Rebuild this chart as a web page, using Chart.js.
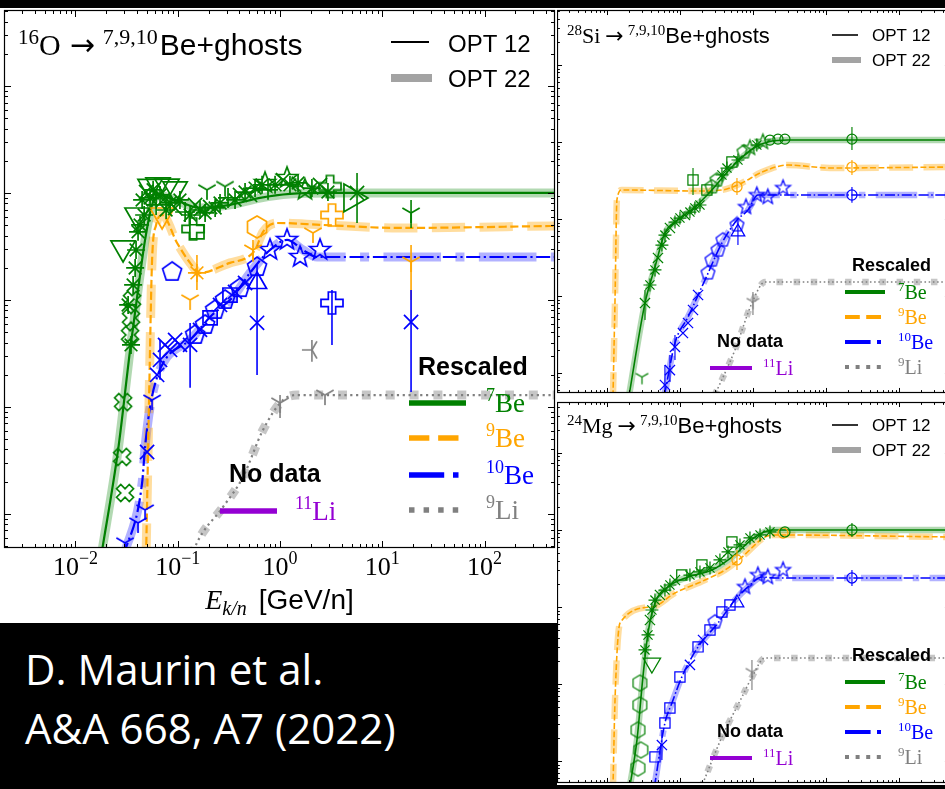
<!DOCTYPE html>
<html>
<head>
<meta charset="utf-8">
<script src="https://cdn.jsdelivr.net/npm/chart.js@4.4.1/dist/chart.umd.min.js"></script>
<style>
  html, body { margin: 0; padding: 0; }
  body { width: 945px; height: 789px; background: #000; position: relative; overflow: hidden; }
  .panel { position: absolute; background: #fff; }
  .panel canvas { display: block; }
  #p1 { left: 0; top: 8px; width: 558px; height: 615px; }
  #p2 { left: 557px; top: 8px; width: 400px; height: 390px; }
  #p3 { left: 557px; top: 398px; width: 400px; height: 387px; }
  .cap { position: absolute; left: 25px; color: #fff; font: 42px/42px "Open Sans", sans-serif; white-space: nowrap; }
</style>
</head>
<body>
<div id="p1" class="panel"><canvas id="c1" width="558" height="615"></canvas></div>
<div id="p2" class="panel"><canvas id="c2" width="400" height="390"></canvas></div>
<div id="p3" class="panel"><canvas id="c3" width="400" height="387"></canvas></div>
<div class="cap" style="top:648px">D. Maurin et al.</div>
<div class="cap" style="top:707px">A&amp;A 668, A7 (2022)</div>

<script>
// x: kinetic energy per nucleon (GeV/n), y: rescaled cross sections (no labels in the picture)
const X_TICKS = [0.01, 0.1, 1, 10, 100];
const X_TICK_EXP = ['\u22122', '\u22121', '0', '1', '2'];

// ---------- 16O panel: model curves ----------
const O16_BE7_E = [0.0178, 0.0261, 0.0342, 0.0409, 0.0479, 0.0561, 0.0641, 0.0942, 0.165, 0.324, 0.637, 1.25, 3.08, 500];
const O16_BE7_Y = [0.004, 0.0396, 0.341, 1.24, 3.64, 7.73, 9.58, 8.60, 7.24, 7.73, 8.98, 9.79, 10, 10];
const O16_BE9_E = [0.0490, 0.0524, 0.0561, 0.0614, 0.0703, 0.0985, 0.132, 0.165, 0.324, 0.486, 0.570, 0.682, 0.935, 2.63, 14.9, 500];
const O16_BE9_Y = [0.004, 0.116, 2.37, 5.02, 6.22, 3.41, 2.22, 1.79, 2.22, 2.52, 2.93, 4.33, 5.24, 5.02, 4.71, 4.92];
const O16_BE10_E = [0.0295, 0.0448, 0.0479, 0.0536, 0.0628, 0.0786, 0.132, 0.207, 0.347, 0.509, 0.798, 1.17, 1.68, 2.30, 500];
const O16_BE10_Y = [0.004, 0.0195, 0.0423, 0.100, 0.190, 0.293, 0.423, 0.693, 1.07, 1.79, 2.93, 3.64, 2.93, 2.52, 2.52];
const O16_LI9_E = [0.138, 0.154, 0.277, 0.435, 0.682, 1.07, 1.47, 500];
const O16_LI9_Y = [0.004, 0.00536, 0.0116, 0.0222, 0.061, 0.116, 0.129, 0.129];

// ---------- 16O panel: data points ----------
const O16_D7_E = [0.0292, 0.0536, 0.0641, 0.0786, 0.0942, 0.0400, 5.66, 19.1, 5.05, 0.141, 3.08, 0.154, 0.193, 0.290, 1.17, 0.713,
  0.0448, 0.0490, 0.0536, 0.0574, 0.0614, 0.0671, 0.0718, 0.0769, 0.0841, 0.0942, 0.105, 0.118, 0.132, 0.148, 0.165, 0.185, 0.207, 0.232,
  0.259, 0.310, 0.363, 0.406, 0.455, 0.509, 0.570, 0.667, 0.763, 0.894, 1.07, 1.25, 1.50, 1.75, 2.05, 2.46, 2.94,
  0.0409, 0.0391, 0.0383, 0.0366, 0.0357, 0.0349, 0.0342, 0.0349, 0.0292, 0.0286, 0.0305, 0.0327, 0.0428, 0.0469];
const O16_D7_Y = [3.06, 11.5, 11.9, 11.6, 10.9, 6.22, 10, 6.5, 8.98, 4.61, 11.5, 4.33, 10.7, 11.5, 13.8, 12.4,
  8.60, 10.2, 8.98, 10.7, 7.73, 9.58, 8.60, 6.93, 8.07, 7.24, 8.60, 6.64, 6.22, 7.73, 6.93, 6.50, 7.40, 7.24,
  8.07, 8.98, 8.60, 9.58, 10.2, 9.58, 11.1, 11.9, 10.7, 11.9, 13.2, 11.9, 12.4, 10.7, 11.1, 11.9, 10.2,
  4.33, 2.93, 1.99, 1.38, 1.0, 0.680, 0.471, 0.380, 0.111, 0.0341, 0.0157, 0.898, 5.02, 6.22];
const O16_D7_M = 'vvvvvvxY>PPsYYSS' + '*x**+*x**x*+*x**x**+*x*x**+*x**S*x*' + '****XXX*XXX***';
const O16_D9_E = [0.596, 3.22, 2.10, 0.154, 0.544, 0.132, 19.1, 0.0703];
const O16_D9_Y = [4.81, 6.22, 4.23, 1.79, 2.93, 1.0, 2.26, 6.22];
const O16_D9_M = 'hPY*YYYv';
const O16_D10_E = [0.0880, 1.17, 0.798, 1.57, 2.46, 0.596, 0.596, 3.22, 19.1, 0.596,
  0.148, 0.165, 0.185, 0.207, 0.232, 0.259, 0.290, 0.324, 0.363, 0.406, 0.455,
  0.0671, 0.0751, 0.0841, 0.0942, 0.105, 0.132, 0.0628, 0.0561, 0.0501, 0.0479, 0.0409, 0.0305];
const O16_D10_Y = [1.83, 3.64, 2.93, 2.52, 2.93, 1.44, 2.03, 0.937, 0.622, 0.611,
  0.471, 0.525, 0.584, 0.680, 0.807, 0.898, 1.0, 1.11, 1.19, 1.29, 1.44,
  0.275, 0.380, 0.341, 0.423, 0.380, 0.380, 0.199, 0.116, 0.0379, 0.0109, 0.00824, 0.00536];
const O16_D10_M = 'pSSSS^pPxx' + 'pxpspxpsxpx' + 'xxxxxxxYxYYY';
const O16_DLI_E = [1.0, 2.75, 2.05];
const O16_DLI_Y = [0.109, 0.129, 0.341];
const O16_DLI_M = 'YY<';
const O16_ERR_E = [5.66, 19.1, 0.154, 0.544, 19.1, 0.596, 3.22, 19.1, 0.596, 0.0671, 0.132, 1.0, 2.05];
const O16_ERR_LO = [5.24, 4.71, 1.24, 2.27, 1.0, 1.0, 0.380, 0.138, 0.199, 0.179, 0.151, 0.0789, 0.264];
const O16_ERR_HI = [15.4, 8.60, 2.63, 3.64, 3.27, 2.12, 1.24, 1.24, 1.0, 0.423, 0.610, 0.129, 0.423];
const O16_ERR_C = 'ggooobbbbbbkk';

// ---------- 28Si panel ----------
const SI_BE7_E = [0.0200, 0.0332, 0.0455, 0.0623, 0.0939, 0.160, 0.274, 0.515, 1.07, 1.60, 3.02, 500];
const SI_BE7_Y = [0.005, 0.081, 0.238, 0.658, 0.97, 1.43, 2.38, 4.73, 8.61, 10.0, 10.6, 10.6];
const SI_BE9_E = [0.0121, 0.0129, 0.0137, 0.0160, 0.177, 0.376, 0.707, 1.33, 3.02, 11.3, 500];
const SI_BE9_Y = [0.005, 0.0888, 1.77, 2.38, 2.31, 2.38, 2.94, 4.07, 5.02, 4.60, 4.73];
const SI_BE10_E = [0.0610, 0.0855, 0.129, 0.220, 0.376, 0.604, 0.855, 1.17, 500];
const SI_BE10_Y = [0.005, 0.0245, 0.0534, 0.161, 0.488, 0.97, 1.31, 2.05, 2.05];
const SI_LI9_E = [0.295, 0.567, 0.969, 1.46, 500];
const SI_LI9_Y = [0.005, 0.0199, 0.081, 0.152, 0.152];
const SI_D7_E = [0.0332, 0.0302, 0.0388, 0.0455, 0.0500, 0.0566, 0.0623, 0.0729, 0.0855, 0.100, 0.117, 0.137, 0.160, 0.188, 0.151,
  0.234, 0.274, 0.321, 0.376, 0.441, 0.515, 0.623, 0.753, 0.910, 1.13, 1.37, 1.71, 2.20, 2.74, 22.7];
const SI_D7_Y = [0.081, 0.00887, 0.139, 0.218, 0.312, 0.459, 0.619, 0.764, 0.914, 1.03, 1.13, 1.23, 1.39, 1.52, 3.21,
  2.38, 2.61, 3.21, 3.73, 4.59, 5.50, 5.84, 7.42, 8.36, 9.14, 10.0, 10.6, 10.9, 10.9, 10.9];
const SI_D7_M = 'xY**x**x**x***sspp**s*pS*Soooo';
const SI_D9_E = [0.604, 22.7];
const SI_D9_Y = [2.61, 4.73];
const SI_D9_M = 'oo';
const SI_D10_E = [0.0623, 0.0729, 0.0855, 0.110, 0.129, 0.151, 0.177, 0.242, 0.274, 0.332, 0.388, 0.604, 0.623, 0.802, 1.13, 1.60, 2.58, 22.7];
const SI_D10_Y = [0.00698, 0.0109, 0.0218, 0.0330, 0.0446, 0.0658, 0.103, 0.199, 0.293, 0.395, 0.533, 0.836, 0.678, 1.43, 2.05, 1.93, 2.53, 2.05];
const SI_D10_M = 'xxxxxxxppppp^SSSSo';
const SI_DLI_E = [1.0];
const SI_DLI_Y = [0.0836];
const SI_DLI_M = 'Y';
const SI_ERR_E = [0.0332, 0.151, 22.7, 0.604, 22.7, 0.0623, 0.0729, 0.0855, 0.623, 22.7, 1.0];
const SI_ERR_LO = [0.0488, 2.05, 7.87, 2.05, 3.73, 0.005, 0.00764, 0.0148, 0.459, 1.62, 0.0566];
const SI_ERR_HI = [0.120, 4.59, 15.7, 3.41, 5.84, 0.0127, 0.0171, 0.0312, 0.971, 2.61, 0.113];
const SI_ERR_C = 'gggoobbbbbk';

// ---------- 24Mg panel ----------
const MG_BE7_E = [0.0205, 0.0258, 0.0311, 0.0365, 0.0455, 0.0685, 0.129, 0.274, 0.515, 1.07, 1.82, 500];
const MG_BE7_Y = [0.0045, 0.0188, 0.123, 0.459, 1.13, 1.82, 2.45, 3.02, 4.45, 8.11, 10.0, 10.0];
const MG_BE9_E = [0.0121, 0.0129, 0.0151, 0.0413, 0.0855, 0.220, 0.413, 0.707, 1.46, 2.00, 500];
const MG_BE9_Y = [0.0045, 0.062, 0.619, 1.00, 1.52, 2.24, 3.02, 4.45, 8.11, 8.61, 8.11];
const MG_BE10_E = [0.0445, 0.0623, 0.0777, 0.106, 0.177, 0.332, 0.567, 0.855, 1.33, 2.00, 500];
const MG_BE10_Y = [0.0045, 0.0312, 0.0566, 0.123, 0.303, 0.619, 1.23, 1.82, 2.45, 2.38, 2.38];
const MG_LI9_E = [0.195, 0.376, 0.707, 0.969, 1.46, 500];
const MG_LI9_Y = [0.0045, 0.0205, 0.0678, 0.123, 0.218, 0.218];
const MG_D7_E = [0.0283, 0.0283, 0.0266, 0.0292, 0.0266, 0.0413, 0.0332, 0.0365, 0.0388, 0.0413, 0.0455, 0.0532, 0.0623, 0.0729, 0.0855,
  0.106, 0.137, 0.188, 0.200, 0.258, 0.353, 0.455, 0.515, 0.664, 0.910, 1.25, 1.71, 2.74, 22.7];
const MG_D7_Y = [0.103, 0.0533, 0.0253, 0.0139, 0.0081, 0.187, 0.277, 0.433, 0.678, 0.914, 1.23, 1.43, 1.66, 1.93, 2.24,
  2.60, 2.60, 2.85, 3.51, 3.21, 4.08, 5.18, 6.98, 6.39, 7.87, 8.61, 9.42, 9.42, 10.0];
const MG_D7_M = 'hhhhhv' + '**x**x**xs**s***s****' + 'oo';
const MG_D9_E = [0.604, 2.58];
const MG_D9_Y = [4.08, 9.14];
const MG_D9_M = 'oo';
const MG_D10_E = [0.0455, 0.0566, 0.0623, 0.0729, 0.100, 0.137, 0.177, 0.207, 0.258, 0.302, 0.376, 0.484, 0.604, 0.777, 1.17, 1.60, 2.58, 22.7];
const MG_D10_Y = [0.0113, 0.0161, 0.0312, 0.0488, 0.123, 0.177, 0.303, 0.373, 0.503, 0.638, 0.861, 1.06, 1.13, 1.82, 2.60, 2.45, 3.02, 2.38];
const MG_D10_M = 'sxsssxsxspss^SSSSo';
const MG_DLI_E = [0.969];
const MG_DLI_Y = [0.143];
const MG_DLI_M = 'Y';
const MG_ERR_E = [22.7, 0.604, 0.0566, 22.7, 0.969];
const MG_ERR_LO = [8.11, 3.02, 0.0103, 1.87, 0.0836];
const MG_ERR_HI = [12.3, 5.50, 0.0253, 3.02, 0.205];
const MG_ERR_C = 'gobbk';

// ---------- styling ----------
const COL = { g: '#008000', o: '#ffa500', b: '#0000ff', k: '#808080', v: '#9400d3' };
const BAND = { g: 'rgba(0,128,0,0.3)', o: 'rgba(255,165,0,0.38)', b: 'rgba(0,0,255,0.3)', k: 'rgba(128,128,128,0.45)' };
const DASH = { g: [], o: [3.7, 1.6], b: [6.4, 1.6, 1, 1.6], k: [1, 1.65], v: [] };
const SERIF = '"Liberation Serif", "DejaVu Serif", serif';
const SANS = '"Liberation Sans", Arial, sans-serif';
const ARROW = '"DejaVu Sans", sans-serif';

const BUILTIN = { v: 'triangle', '^': 'triangle', '>': 'triangle', '*': 'star', x: 'crossRot', '+': 'cross', s: 'rect', o: 'circle' };
const ROT = { v: 180, '>': 90 };
const SIZE = { v: 14, '>': 16, '^': 11, '*': 9, x: 10, '+': 10, s: 10, o: 7, p: 10, h: 11, S: 11, P: 11, X: 9, Y: 10, '<': 10 };

const markerCache = {};
function marker(code, color, r, lw) {
  const key = code + color + r;
  if (markerCache[key]) return markerCache[key];
  const s = Math.ceil(2 * r + 2 * lw + 2);
  const c = document.createElement('canvas');
  c.width = c.height = s;
  const g = c.getContext('2d');
  g.translate(s / 2, s / 2);
  g.strokeStyle = color;
  g.lineWidth = lw;
  g.beginPath();
  const ring = (n, rad, ph) => {
    for (let i = 0; i < n; i++) {
      const a = ph + i * 2 * Math.PI / n;
      const px = rad(i) * Math.cos(a), py = rad(i) * Math.sin(a);
      if (i) g.lineTo(px, py); else g.moveTo(px, py);
    }
    g.closePath();
  };
  if (code === 'p') ring(5, () => r, -Math.PI / 2);
  else if (code === 'h') ring(6, () => r, -Math.PI / 2);
  else if (code === 'S') ring(10, i => (i % 2 ? r * 0.42 : r), -Math.PI / 2);
  else if (code === 'P' || code === 'X') {
    const w = r / 3;
    if (code === 'X') g.rotate(Math.PI / 4);
    const pts = [[-w, -r], [w, -r], [w, -w], [r, -w], [r, w], [w, w], [w, r], [-w, r], [-w, w], [-r, w], [-r, -w], [-w, -w]];
    pts.forEach((p, i) => (i ? g.lineTo(p[0], p[1]) : g.moveTo(p[0], p[1])));
    g.closePath();
  } else {
    const base = code === 'Y' ? Math.PI / 2 : Math.PI;
    for (let i = 0; i < 3; i++) {
      const a = base + i * 2 * Math.PI / 3;
      g.moveTo(0, 0);
      g.lineTo(r * Math.cos(a), r * Math.sin(a));
    }
  }
  g.stroke();
  markerCache[key] = c;
  return c;
}

function pointSet(E, Y, M, key, k) {
  const codes = M.split('');
  return {
    data: E.map((e, i) => ({ x: e, y: Y[i] })),
    showLine: false,
    pointStyle: codes.map(c => BUILTIN[c] || marker(c, COL[key], SIZE[c] * k, 1.7 * k)),
    pointRotation: codes.map(c => ROT[c] || 0),
    pointRadius: codes.map(c => SIZE[c] * k),
    pointBorderColor: COL[key],
    pointBackgroundColor: 'rgba(0,0,0,0)',
    pointBorderWidth: 1.7 * k,
    clip: 0
  };
}

function modelSets(E, Y, key, lw, bw) {
  const pts = E.map((e, i) => ({ x: e, y: Y[i] }));
  const thin = {
    data: pts, showLine: true, pointRadius: 0, borderColor: COL[key], borderWidth: lw,
    borderDash: DASH[key].map(d => d * lw), cubicInterpolationMode: 'monotone', clip: 0
  };
  const band = Object.assign({}, thin, {
    data: pts.map(p => ({ x: p.x, y: p.y })), borderColor: BAND[key], borderWidth: bw,
    borderDash: DASH[key].map(d => d * bw)
  });
  return { thin, band };
}

function buildSets(models, points, k) {
  const lw = 2.2 * k, bw = 9 * k;
  const m = models.map(([E, Y, key]) => modelSets(E, Y, key, lw, bw));
  const p = points.map(([E, Y, M, key]) => pointSet(E, Y, M, key, k));
  return p.concat(m.map(s => s.thin), m.map(s => s.band));
}

// ---------- drawing helpers ----------
function rich(ctx, x, y, parts, align) {
  let w = 0;
  parts.forEach(p => {
    if (typeof p === 'number') w += p;
    else { ctx.font = p[1]; w += ctx.measureText(p[0]).width; }
  });
  let cx = align === 'center' ? x - w / 2 : x;
  parts.forEach(p => {
    if (typeof p === 'number') { cx += p; return; }
    ctx.font = p[1];
    ctx.fillStyle = p[3] || '#000';
    ctx.fillText(p[0], cx, y + (p[2] || 0));
    cx += ctx.measureText(p[0]).width;
  });
}

function seg(ctx, x1, x2, y, color, lw, dash) {
  ctx.save();
  ctx.strokeStyle = color;
  ctx.lineWidth = lw;
  ctx.setLineDash(dash);
  ctx.lineCap = 'butt';
  ctx.beginPath();
  ctx.moveTo(x1, y);
  ctx.lineTo(x2, y);
  ctx.stroke();
  ctx.restore();
}

function drawFrame(chart, k) {
  const { ctx, chartArea: a, scales: { x, y } } = chart;
  ctx.save();
  ctx.strokeStyle = '#000';
  ctx.lineWidth = 1.2;
  ctx.strokeRect(a.left + 0.5, a.top + 0.5, a.right - a.left - 1, a.bottom - a.top - 1);
  ctx.lineWidth = 1;
  ctx.beginPath();
  for (let d = -4; d <= 3; d++) {
    for (let m = 1; m < 10; m++) {
      const v = m * Math.pow(10, d);
      const len = (m === 1 ? 7 : 4) * k;
      if (v >= x.min && v <= x.max) {
        const px = Math.round(x.getPixelForValue(v)) + 0.5;
        ctx.moveTo(px, a.bottom); ctx.lineTo(px, a.bottom - len);
        ctx.moveTo(px, a.top); ctx.lineTo(px, a.top + len);
      }
      if (v >= y.min && v <= y.max) {
        const py = Math.round(y.getPixelForValue(v)) + 0.5;
        ctx.moveTo(a.left, py); ctx.lineTo(a.left + len, py);
        ctx.moveTo(a.right, py); ctx.lineTo(a.right - len, py);
      }
    }
  }
  ctx.stroke();
  ctx.restore();
}

function legendRows(ctx, L) {
  const keys = ['g', 'o', 'b', 'k'];
  const sups = ['7', '9', '10', '9'];
  const names = ['Be', 'Be', 'Be', 'Li'];
  ctx.font = `bold ${L.hf}px ${SANS}`;
  ctx.fillStyle = '#000';
  ctx.fillText('Rescaled', L.rx, L.ry);
  keys.forEach((key, i) => {
    const y = L.rows[i];
    seg(ctx, L.lx1, L.lx2, y, COL[key], L.lw, DASH[key].map(d => d * L.lw));
    rich(ctx, L.tx, y + L.dy, [[sups[i], `${L.sf}px ${SERIF}`, -L.sr, COL[key]], [names[i], `${L.mf}px ${SERIF}`, 0, COL[key]]]);
  });
  ctx.font = `bold ${L.hf}px ${SANS}`;
  ctx.fillStyle = '#000';
  ctx.fillText('No data', L.nx, L.ny);
  seg(ctx, L.vx1, L.vx2, L.vy, COL.v, L.lw, []);
  rich(ctx, L.vtx, L.vy + L.dy, [['11', `${L.sf}px ${SERIF}`, -L.sr, COL.v], ['Li', `${L.mf}px ${SERIF}`, 0, COL.v]]);
}

function drawLeftDeco(chart) {
  const { ctx, scales: { x } } = chart;
  ctx.save();
  ctx.textBaseline = 'alphabetic';
  rich(ctx, 18, 47, [['16', `21px ${SERIF}`, -11], ['O', `30px ${SERIF}`], 9, ['\u2192', `30px ${ARROW}`], 8,
    ['7,9,10', `22px ${SERIF}`, -11], 2, ['Be+ghosts', `30px ${SANS}`]]);
  seg(ctx, 391, 429, 34, '#000', 2, []);
  seg(ctx, 391, 432, 70, '#a3a3a3', 8, []);
  ctx.font = `24px ${SANS}`;
  ctx.fillStyle = '#000';
  ctx.fillText('OPT 12', 448, 44);
  ctx.fillText('OPT 22', 448, 79);
  legendRows(ctx, {
    hf: 25, rx: 418, ry: 367, rows: [395, 430, 467, 502], lx1: 409, lx2: 466, lw: 5.5, tx: 486, dy: 9,
    sf: 18, mf: 27, sr: 11, nx: 229, ny: 474, vx1: 220, vx2: 277, vy: 503, vtx: 295
  });
  X_TICKS.forEach((v, i) => {
    rich(ctx, x.getPixelForValue(v), 567, [['10', `26px ${SERIF}`], [X_TICK_EXP[i], `18px ${SERIF}`, -11]], 'center');
  });
  const a = chart.chartArea;
  rich(ctx, (a.left + a.right) / 2, 601, [['E', `italic 28px ${SERIF}`], ['k/n', `italic 20px ${SERIF}`, 6], 12,
    ['[GeV/n]', `28px ${SANS}`]], 'center');
  ctx.restore();
}

function drawRightDeco(chart, nucleus, mass) {
  const { ctx } = chart;
  ctx.save();
  rich(ctx, 10, 35, [[mass, `15px ${SERIF}`, -8], [nucleus, `22px ${SERIF}`], 5, ['\u2192', `22px ${ARROW}`], 4,
    ['7,9,10', `15px ${SERIF}`, -8], ['Be+ghosts', `22px ${SANS}`]]);
  seg(ctx, 275, 301, 27, '#000', 1.6, []);
  seg(ctx, 275, 304, 52, '#a3a3a3', 6, []);
  ctx.font = `17px ${SANS}`;
  ctx.fillStyle = '#000';
  ctx.fillText('OPT 12', 315, 33);
  ctx.fillText('OPT 22', 315, 58);
  legendRows(ctx, {
    hf: 18, rx: 295, ry: 263, rows: [284, 309, 334, 359], lx1: 288, lx2: 328, lw: 4, tx: 341, dy: 7,
    sf: 13, mf: 20, sr: 8, nx: 160, ny: 339, vx1: 153, vx2: 195, vy: 360, vtx: 206
  });
  ctx.restore();
}

// ---------- panels ----------
const PANELS = {
  c1: {
    k: 1, pad: { left: 4, top: 2, right: 3, bottom: 75 },
    x: [0.002, 488], y: [0.0048, 513],
    models: [[O16_BE7_E, O16_BE7_Y, 'g'], [O16_BE9_E, O16_BE9_Y, 'o'], [O16_BE10_E, O16_BE10_Y, 'b'], [O16_LI9_E, O16_LI9_Y, 'k']],
    points: [[O16_D7_E, O16_D7_Y, O16_D7_M, 'g'], [O16_D9_E, O16_D9_Y, O16_D9_M, 'o'], [O16_D10_E, O16_D10_Y, O16_D10_M, 'b'], [O16_DLI_E, O16_DLI_Y, O16_DLI_M, 'k']],
    err: [O16_ERR_E, O16_ERR_LO, O16_ERR_HI, O16_ERR_C],
    deco: c => drawLeftDeco(c)
  },
  c2: {
    k: 0.72, pad: { left: 0, top: 2, right: 7, bottom: 5 },
    x: [0.00207, 500], y: [0.0055, 518],
    models: [[SI_BE7_E, SI_BE7_Y, 'g'], [SI_BE9_E, SI_BE9_Y, 'o'], [SI_BE10_E, SI_BE10_Y, 'b'], [SI_LI9_E, SI_LI9_Y, 'k']],
    points: [[SI_D7_E, SI_D7_Y, SI_D7_M, 'g'], [SI_D9_E, SI_D9_Y, SI_D9_M, 'o'], [SI_D10_E, SI_D10_Y, SI_D10_M, 'b'], [SI_DLI_E, SI_DLI_Y, SI_DLI_M, 'k']],
    err: [SI_ERR_E, SI_ERR_LO, SI_ERR_HI, SI_ERR_C],
    deco: c => drawRightDeco(c, 'Si', '28')
  },
  c3: {
    k: 0.72, pad: { left: 0, top: 4, right: 7, bottom: 2 },
    x: [0.00207, 500], y: [0.00518, 459],
    models: [[MG_BE7_E, MG_BE7_Y, 'g'], [MG_BE9_E, MG_BE9_Y, 'o'], [MG_BE10_E, MG_BE10_Y, 'b'], [MG_LI9_E, MG_LI9_Y, 'k']],
    points: [[MG_D7_E, MG_D7_Y, MG_D7_M, 'g'], [MG_D9_E, MG_D9_Y, MG_D9_M, 'o'], [MG_D10_E, MG_D10_Y, MG_D10_M, 'b'], [MG_DLI_E, MG_DLI_Y, MG_DLI_M, 'k']],
    err: [MG_ERR_E, MG_ERR_LO, MG_ERR_HI, MG_ERR_C],
    deco: c => drawRightDeco(c, 'Mg', '24')
  }
};

const errPlugin = {
  id: 'errbars',
  afterDatasetsDraw(chart) {
    const P = PANELS[chart.canvas.id];
    const [E, LO, HI, C] = P.err;
    const { ctx, chartArea: a, scales: { x, y } } = chart;
    ctx.save();
    ctx.beginPath();
    ctx.rect(a.left, a.top, a.right - a.left, a.bottom - a.top);
    ctx.clip();
    ctx.lineWidth = 1.6 * P.k;
    E.forEach((e, i) => {
      const px = x.getPixelForValue(e);
      ctx.strokeStyle = COL[C[i]];
      ctx.beginPath();
      ctx.moveTo(px, y.getPixelForValue(LO[i]));
      ctx.lineTo(px, y.getPixelForValue(HI[i]));
      ctx.stroke();
    });
    ctx.restore();
  }
};

const decoPlugin = {
  id: 'deco',
  afterDraw(chart) {
    const P = PANELS[chart.canvas.id];
    drawFrame(chart, P.k);
    P.deco(chart);
  }
};

Object.keys(PANELS).forEach(id => {
  const P = PANELS[id];
  new Chart(document.getElementById(id), {
    type: 'scatter',
    data: { datasets: buildSets(P.models, P.points, P.k) },
    options: {
      responsive: false,
      animation: false,
      events: [],
      layout: { padding: P.pad, autoPadding: false },
      scales: {
        x: { type: 'logarithmic', min: P.x[0], max: P.x[1], display: false },
        y: { type: 'logarithmic', min: P.y[0], max: P.y[1], display: false }
      },
      plugins: { legend: { display: false }, tooltip: { enabled: false } }
    },
    plugins: [errPlugin, decoPlugin]
  });
});
</script>
</body>
</html>
